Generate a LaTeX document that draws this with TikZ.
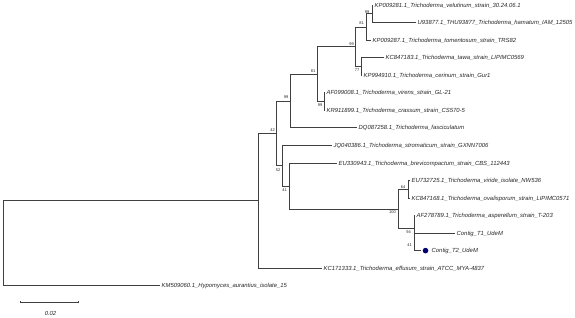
\documentclass[tikz,border=0pt]{standalone}
\usepackage{fontspec}
\setmainfont{Liberation Sans}
\begin{document}
\begin{tikzpicture}[x=1pt,y=-1pt,
  br/.style={draw=black!75, line width=0.7pt},
  leaf/.style={anchor=west, inner sep=0pt, xshift=1.5pt, text height=4.3pt, text depth=0pt,
    font=\fontsize{5.9}{7}\selectfont\itshape, text=black!85},
  bs/.style={inner sep=0pt, font=\fontsize{4}{4.5}\selectfont, text=black!85},
  dotmark/.style={circle, fill=blue!45!black, inner sep=0pt, minimum size=5.6pt}]
\useasboundingbox (0,0) rectangle (575,318);
% internal nodes
\coordinate (root) at (3.3,243.2);
\coordinate (nA) at (258,200.73);
\coordinate (nB) at (276,133.3);
\coordinate (n99a) at (290,100.95);
\coordinate (n81a) at (317,74.08);
\coordinate (n99b) at (324,101.49);
\coordinate (n99c) at (355,46.67);
\coordinate (n81b) at (366,26.93);
\coordinate (n99d) at (372,13.77);
\coordinate (n77) at (361,66.4);
\coordinate (n52) at (282,165.64);
\coordinate (n41) at (289,185.93);
\coordinate (n100) at (398,208.95);
\coordinate (n64) at (408,189.21);
\coordinate (n94) at (414,228.69);
\coordinate (n41b) at (414.5,241.85);
% leaf tips
\coordinate (t0) at (373,5);
\coordinate (t1) at (416,22.54);
\coordinate (t2) at (371,40.09);
\coordinate (t3) at (384,57.63);
\coordinate (t4) at (362,75.18);
\coordinate (t5) at (325,92.72);
\coordinate (t6) at (325,110.26);
\coordinate (t7) at (357,127.81);
\coordinate (t8) at (332,145.35);
\coordinate (t9) at (337,162.9);
\coordinate (t10) at (410,180.44);
\coordinate (t11) at (410,197.98);
\coordinate (t12) at (415,215.53);
\coordinate (t13) at (455,233.07);
\coordinate (t14) at (421,250.62);
\coordinate (t15) at (322,268.16);
\coordinate (t16) at (160,285.7);
% branches
\draw[br] (root) |- (nA);
\draw[br] (root) |- (t16);
\draw[br] (nA) |- (nB);
\draw[br] (nA) |- (t15);
\draw[br] (nB) |- (n99a);
\draw[br] (nB) |- (n52);
\draw[br] (n99a) |- (n81a);
\draw[br] (n99a) |- (t7);
\draw[br] (n81a) |- (n99c);
\draw[br] (n81a) |- (n99b);
\draw[br] (n99b) |- (t5);
\draw[br] (n99b) |- (t6);
\draw[br] (n99c) |- (n81b);
\draw[br] (n99c) |- (n77);
\draw[br] (n81b) |- (n99d);
\draw[br] (n81b) |- (t2);
\draw[br] (n99d) |- (t0);
\draw[br] (n99d) |- (t1);
\draw[br] (n77) |- (t3);
\draw[br] (n77) |- (t4);
\draw[br] (n52) |- (t8);
\draw[br] (n52) |- (n41);
\draw[br] (n41) |- (t9);
\draw[br] (n41) |- (n100);
\draw[br] (n100) |- (n64);
\draw[br] (n100) |- (n94);
\draw[br] (n64) |- (t10);
\draw[br] (n64) |- (t11);
\draw[br] (n94) |- (t12);
\draw[br] (n94) |- (n41b);
\draw[br] (n41b) |- (t13);
\draw[br] (n41b) |- (t14);
% leaf labels
\node[leaf] (L0) at (t0) {KP009281.1\_Trichoderma\_velutinum\_strain\_30.24.06.1};
\node[leaf] (L1) at (t1) {U93877.1\_THU93877\_Trichoderma\_hamatum\_IAM\_12505};
\node[leaf] (L2) at (t2) {KP009287.1\_Trichoderma\_tomentosum\_strain\_TRS82};
\node[leaf] (L3) at (t3) {KC847183.1\_Trichoderma\_tawa\_strain\_LIPIMC0569};
\node[leaf] (L4) at (t4) {KP994910.1\_Trichoderma\_cerinum\_strain\_Gur1};
\node[leaf] (L5) at (t5) {AF099008.1\_Trichoderma\_virens\_strain\_GL-21};
\node[leaf] (L6) at (t6) {KR911899.1\_Trichoderma\_crassum\_strain\_CS570-5};
\node[leaf] (L7) at (t7) {DQ087258.1\_Trichoderma\_fasciculatum};
\node[leaf] (L8) at (t8) {JQ040386.1\_Trichoderma\_stromaticum\_strain\_GXNN7006};
\node[leaf] (L9) at (t9) {EU330943.1\_Trichoderma\_brevicompactum\_strain\_CBS\_112443};
\node[leaf] (L10) at (t10) {EU732725.1\_Trichoderma\_viride\_isolate\_NW536};
\node[leaf] (L11) at (t11) {KC847168.1\_Trichoderma\_ovalisporum\_strain\_LIPIMC0571};
\node[leaf] (L12) at (t12) {AF278789.1\_Trichoderma\_asperellum\_strain\_T-203};
\node[leaf] (L13) at (t13) {Contig\_T1\_UdeM};
\node[dotmark] (D14) at ([xshift=4.5pt]t14) {};
\node[leaf] (L14) at ([xshift=9pt]t14) {Contig\_T2\_UdeM};
\node[leaf] (L15) at (t15) {KC171333.1\_Trichoderma\_effusum\_strain\_ATCC\_MYA-4837};
\node[leaf] (L16) at (t16) {KM509060.1\_Hypomyces\_aurantius\_isolate\_15};
% bootstrap values
\node[bs] (b1) at (367,12.5) {99};
\node[bs] (b2) at (361.5,23.5) {81};
\node[bs] (b3) at (351.5,44) {99};
\node[bs] (b4) at (357,70) {77};
\node[bs] (b5) at (313,71.5) {81};
\node[bs] (b6) at (286,97.5) {99};
\node[bs] (b7) at (320,105) {99};
\node[bs] (b8) at (272.5,130.5) {42};
\node[bs] (b9) at (278,170) {52};
\node[bs] (b10) at (284.5,190) {41};
\node[bs] (b11) at (403,187) {64};
\node[bs] (b12) at (392.5,212.5) {100};
\node[bs] (b13) at (408.5,232.5) {94};
\node[bs] (b14) at (409.5,245.5) {41};
% scale bar
\coordinate (s1) at (20,302);
\coordinate (s2) at (78,302);
\draw[br] (s1) -- (s2);
\draw[br] ([yshift=-1.2pt]s1) -- ([yshift=1.2pt]s1);
\draw[br] ([yshift=-1.2pt]s2) -- ([yshift=1.2pt]s2);
\node[leaf, anchor=center, xshift=0pt] (sl) at (49,313) {0.02};
\end{tikzpicture}
\end{document}
